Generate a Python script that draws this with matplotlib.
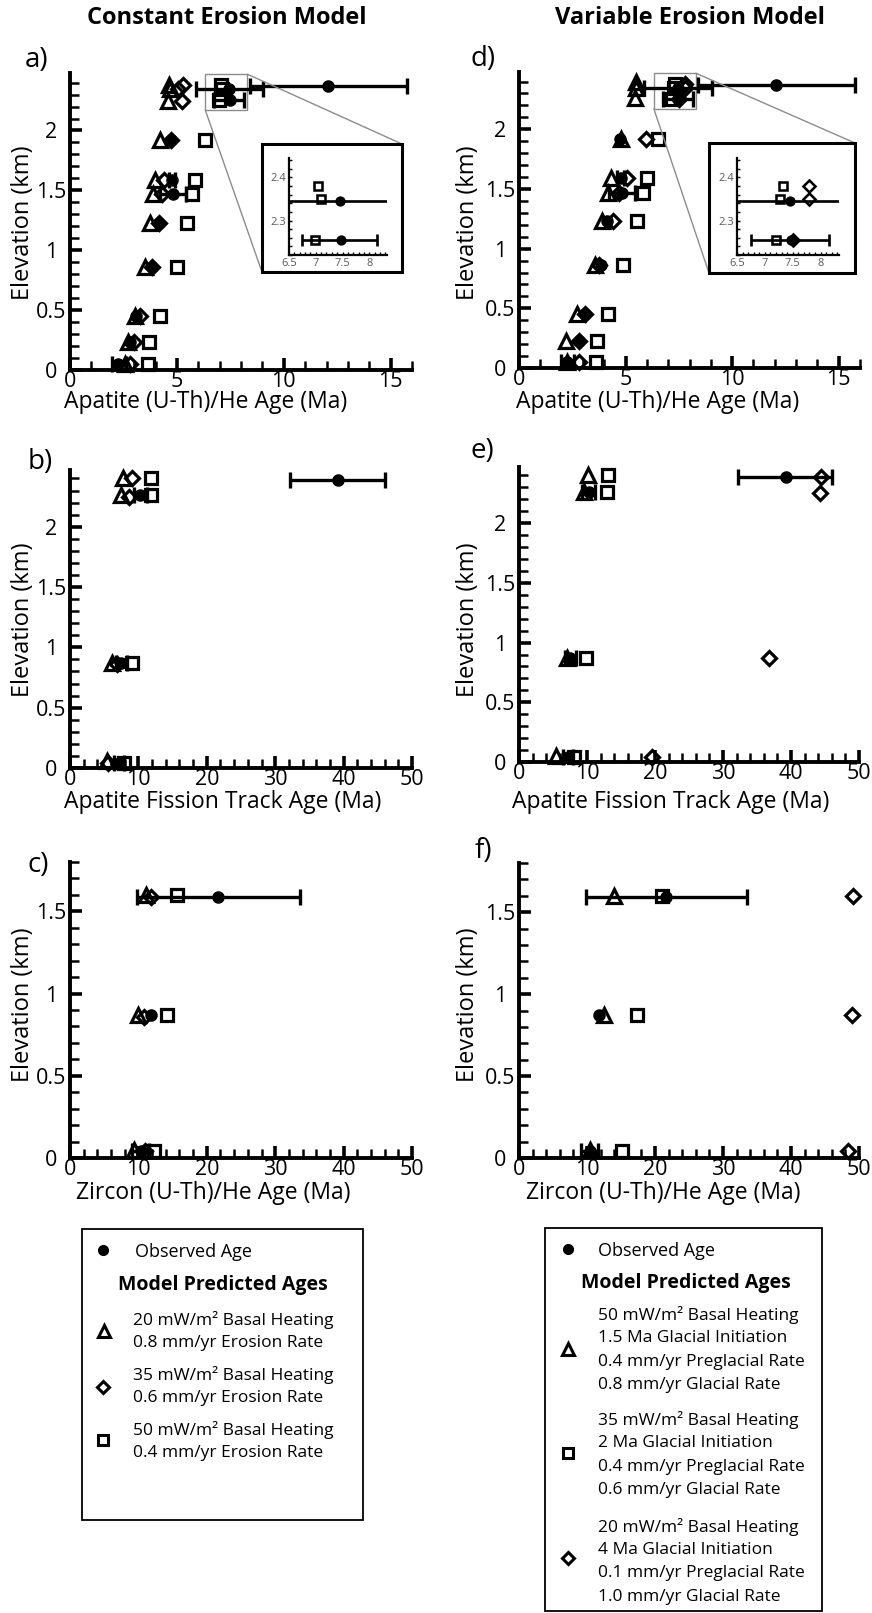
import matplotlib
matplotlib.use("Agg")
import matplotlib.pyplot as plt
from matplotlib.patches import Rectangle, ConnectionPatch
from matplotlib.ticker import MultipleLocator, FuncFormatter
import numpy as np

plt.rcParams['font.family'] = ['Open Sans', 'DejaVu Sans']

W, H = 872, 1613

# ---- observed ages (same samples in both columns) ----
ahe_obs_age = [12.05, 7.45, 7.47, 4.72, 4.77, 4.84, 4.15, 3.83, 3.1, 2.8, 2.25]
ahe_obs_elev = [2.37, 2.345, 2.255, 1.92, 1.59, 1.47, 1.23, 0.86, 0.45, 0.23, 0.05]
ahe_obs_lo = [8.4, 5.88, 6.75, 4.72, 4.62, 4.2, 4.15, 3.83, 3.1, 2.8, 1.98]
ahe_obs_hi = [15.75, 9.05, 8.15, 4.72, 4.92, 5.45, 4.15, 3.83, 3.1, 2.8, 2.6]

aft_obs_age = [39.2, 10.3, 7.5, 7.2]
aft_obs_elev = [2.39, 2.26, 0.87, 0.04]
aft_obs_lo = [32.2, 9.3, 6.7, 6.5]
aft_obs_hi = [46.1, 11.2, 8.4, 7.9]

zhe_obs_age = [21.6, 11.8, 10.45]
zhe_obs_elev = [1.59, 0.87, 0.04]
zhe_obs_lo = [9.8, 11.8, 9.1]
zhe_obs_hi = [33.6, 11.8, 11.6]

# ---- constant erosion model predictions ----
a_tri_age = [4.65, 4.7, 4.6, 4.22, 3.98, 3.9, 3.72, 3.5, 3.02, 2.72, 2.55]
a_tri_elev = [2.38, 2.35, 2.25, 1.92, 1.59, 1.47, 1.23, 0.86, 0.45, 0.23, 0.05]
a_dia_age = [5.3, 5.05, 5.25, 4.72, 4.38, 4.3, 4.15, 3.83, 3.28, 2.98, 2.8]
a_dia_elev = [2.38, 2.35, 2.25, 1.92, 1.59, 1.47, 1.23, 0.86, 0.45, 0.23, 0.05]
a_sq_age = [7.05, 7.1, 6.98, 6.3, 5.87, 5.72, 5.47, 5.0, 4.23, 3.7, 3.66]
a_sq_elev = [2.38, 2.35, 2.255, 1.92, 1.59, 1.47, 1.23, 0.86, 0.45, 0.23, 0.05]

b_tri_age = [7.8, 7.5, 6.1, 5.4]
b_tri_elev = [2.40, 2.26, 0.87, 0.06]
b_dia_age = [9.0, 8.6, 6.8, 5.6]
b_dia_elev = [2.40, 2.25, 0.86, 0.04]
b_sq_age = [11.8, 11.8, 9.0, 7.9]
b_sq_elev = [2.40, 2.26, 0.87, 0.04]

c_tri_age = [11.1, 10.0, 9.4]
c_tri_elev = [1.60, 0.87, 0.05]
c_dia_age = [11.9, 10.8, 10.9]
c_dia_elev = [1.59, 0.86, 0.04]
c_sq_age = [15.7, 14.2, 12.3]
c_sq_elev = [1.60, 0.87, 0.04]

# ---- variable erosion model predictions ----
d_tri_age = [5.48, 5.5, 5.45, 4.8, 4.32, 4.17, 3.88, 3.56, 2.72, 2.2, 2.25]
d_tri_elev = [2.40, 2.35, 2.26, 1.92, 1.59, 1.47, 1.23, 0.86, 0.45, 0.23, 0.05]
d_dia_age = [7.8, 7.8, 7.5, 5.94, 5.06, 4.69, 4.4, 3.75, 3.1, 2.8, 2.8]
d_dia_elev = [2.38, 2.35, 2.255, 1.92, 1.59, 1.47, 1.23, 0.86, 0.45, 0.23, 0.05]
d_sq_age = [7.33, 7.28, 7.2, 6.5, 6.0, 5.82, 5.53, 4.9, 4.17, 3.65, 3.62]
d_sq_elev = [2.38, 2.35, 2.255, 1.92, 1.59, 1.47, 1.23, 0.86, 0.45, 0.23, 0.05]

e_tri_age = [10.1, 9.6, 7.1, 5.5]
e_tri_elev = [2.40, 2.26, 0.87, 0.05]
e_dia_age = [44.4, 44.2, 36.7, 19.6]
e_dia_elev = [2.39, 2.25, 0.87, 0.04]
e_sq_age = [13.1, 13.0, 9.8, 8.1]
e_sq_elev = [2.40, 2.26, 0.87, 0.04]

f_tri_age = [13.9, 12.55, 10.45]
f_tri_elev = [1.60, 0.87, 0.05]
f_dia_age = [49.1, 48.9, 48.4]
f_dia_elev = [1.60, 0.87, 0.04]
f_sq_age = [21.0, 17.35, 15.1]
f_sq_elev = [1.60, 0.87, 0.04]

fig = plt.figure(figsize=(W / 100, H / 100), dpi=100)


def px_axes(left, top, right, bottom, z=0):
    ax = fig.add_axes([left / W, 1 - bottom / H, (right - left) / W, (bottom - top) / H])
    ax.set_zorder(z)
    return ax


def draw_points(ax, obs, models, scale=1.0, clip=False):
    age, elev, lo, hi = [np.asarray(v, float) for v in obs]
    m = (hi - lo) > 0
    ax.errorbar(age[m], elev[m], xerr=[age[m] - lo[m], hi[m] - age[m]], fmt='none',
                ecolor='k', elinewidth=2.4 * scale, capsize=5.5 * scale,
                capthick=2.4 * scale, clip_on=clip, zorder=2)
    ax.plot(age, elev, 'o', color='k', ms=8 * scale, clip_on=clip, zorder=3)
    for (xa, ya), mk, ms in zip(models, ['^', 'D', 's'], [10, 7.5, 8]):
        ax.plot(xa, ya, mk, mfc='none', mec='k', mew=2.3 * scale, ms=ms * scale,
                clip_on=clip, zorder=4)


fmt = FuncFormatter(lambda v, p: f'{v:g}')


def style(ax, xlim, ylim, xmaj, xmin):
    ax.set_xlim(*xlim)
    ax.set_ylim(*ylim)
    ax.patch.set_visible(False)
    for s in ['top', 'right']:
        ax.spines[s].set_visible(False)
    for s in ['left', 'bottom']:
        ax.spines[s].set_linewidth(2.8)
    ax.xaxis.set_major_locator(MultipleLocator(xmaj))
    ax.xaxis.set_minor_locator(MultipleLocator(xmin))
    ax.yaxis.set_major_locator(MultipleLocator(0.5))
    ax.yaxis.set_minor_locator(MultipleLocator(0.1))
    ax.xaxis.set_major_formatter(fmt)
    ax.yaxis.set_major_formatter(fmt)
    ax.tick_params(which='both', direction='in', top=False, right=False)
    ax.tick_params(which='major', length=8.5, width=2.6, labelsize=15.5)
    ax.tick_params(which='minor', length=6.5, width=1.8)
    ax.tick_params(axis='y', which='major', pad=13.5)
    ax.tick_params(axis='x', which='major', pad=0.5)
    for lbl in ax.get_yticklabels():
        lbl.set_ha('center')


def inset(ax, obs, models, frame, box):
    # frame: outer rectangle in px (l, t, r, b); box: inner axes in px
    l, t, r, b = frame
    lay.add_patch(Rectangle((l, t), r - l, b - t, fill=True, fc='white', ec='k', lw=2.2, zorder=5))
    ia = px_axes(*box, z=3)
    draw_points(ia, obs, models, scale=0.8, clip=True)
    ia.set_xlim(6.5, 8.33)
    ia.set_ylim(2.22, 2.445)
    ia.patch.set_visible(False)
    for s in ['top', 'right']:
        ia.spines[s].set_visible(False)
    for s in ['left', 'bottom']:
        ia.spines[s].set_linewidth(1.6)
    ia.xaxis.set_major_locator(MultipleLocator(0.5))
    ia.xaxis.set_minor_locator(MultipleLocator(0.1))
    ia.yaxis.set_major_locator(MultipleLocator(0.1))
    ia.yaxis.set_minor_locator(MultipleLocator(0.02))
    ia.xaxis.set_major_formatter(fmt)
    ia.yaxis.set_major_formatter(fmt)
    ia.tick_params(which='both', direction='in', labelsize=8, labelcolor='0.35',
                   length=2.5, width=1.0, pad=2)
    # zoom rectangle on main axes and connectors
    x0, x1, y0, y1 = 6.33, 8.3, 2.17, 2.47
    ax.add_patch(Rectangle((x0, y0), x1 - x0, y1 - y0, fill=False, ec='0.55', lw=1.0,
                           clip_on=False, zorder=1))
    for xa, ya, xb, yb in [(x1, y1, r, t), (x0, y0, l, b)]:
        con = ConnectionPatch(xyA=(xa, ya), coordsA='data', axesA=ax,
                              xyB=(xb, yb), coordsB='data', axesB=lay,
                              color='0.55', lw=1.0, zorder=4)
        lay.add_artist(con)


# overlay for text, legends and inset frames, in pixel coordinates
lay = fig.add_axes([0, 0, 1, 1])
lay.set_xlim(0, W)
lay.set_ylim(H, 0)
lay.axis('off')
lay.set_zorder(1)

ax_a = px_axes(70, 73, 412, 370)
ax_d = px_axes(519, 72, 860, 368)
ax_b = px_axes(70, 470, 412, 768)
ax_e = px_axes(519, 467, 859, 762)
ax_c = px_axes(70, 862, 412, 1158)
ax_f = px_axes(519, 863, 859, 1158)

ahe_obs = (ahe_obs_age, ahe_obs_elev, ahe_obs_lo, ahe_obs_hi)
aft_obs = (aft_obs_age, aft_obs_elev, aft_obs_lo, aft_obs_hi)
zhe_obs = (zhe_obs_age, zhe_obs_elev, zhe_obs_lo, zhe_obs_hi)

a_models = [(a_tri_age, a_tri_elev), (a_dia_age, a_dia_elev), (a_sq_age, a_sq_elev)]
b_models = [(b_tri_age, b_tri_elev), (b_dia_age, b_dia_elev), (b_sq_age, b_sq_elev)]
c_models = [(c_tri_age, c_tri_elev), (c_dia_age, c_dia_elev), (c_sq_age, c_sq_elev)]
d_models = [(d_tri_age, d_tri_elev), (d_dia_age, d_dia_elev), (d_sq_age, d_sq_elev)]
e_models = [(e_tri_age, e_tri_elev), (e_dia_age, e_dia_elev), (e_sq_age, e_sq_elev)]
f_models = [(f_tri_age, f_tri_elev), (f_dia_age, f_dia_elev), (f_sq_age, f_sq_elev)]

for ax, obs, mods, xl, yl, xm, xn in [
        (ax_a, ahe_obs, a_models, (0, 16), (0, 2.48), 5, 1),
        (ax_d, ahe_obs, d_models, (0, 16), (0, 2.48), 5, 1),
        (ax_b, aft_obs, b_models, (0, 50), (0, 2.47), 10, 2),
        (ax_e, aft_obs, e_models, (0, 50), (0, 2.47), 10, 2),
        (ax_c, zhe_obs, c_models, (0, 50), (0, 1.8), 10, 2),
        (ax_f, zhe_obs, f_models, (0, 50), (0, 1.8), 10, 2)]:
    draw_points(ax, obs, mods)
    style(ax, xl, yl, xm, xn)

inset(ax_a, ahe_obs, a_models, (262, 144, 402, 272), (289, 158, 387, 255))
inset(ax_d, ahe_obs, d_models, (709, 143, 855, 273), (737, 158, 839, 255))

# titles, panel letters, axis labels
lay.text(227, 18, 'Constant Erosion Model', ha='center', va='center', fontsize=17, fontweight='bold')
lay.text(690, 18, 'Variable Erosion Model', ha='center', va='center', fontsize=17, fontweight='bold')
for s, x, y in [('a)', 37, 60), ('d)', 483, 59), ('b)', 40, 462), ('e)', 482, 451),
                ('c)', 38, 865), ('f)', 483, 851)]:
    lay.text(x, y, s, ha='center', va='center', fontsize=20)
for s, x, y in [('Apatite (U-Th)/He Age (Ma)', 206, 402), ('Apatite (U-Th)/He Age (Ma)', 658, 402),
                ('Apatite Fission Track Age (Ma)', 223, 802), ('Apatite Fission Track Age (Ma)', 671, 802),
                ('Zircon (U-Th)/He Age (Ma)', 213, 1193), ('Zircon (U-Th)/He Age (Ma)', 663, 1193)]:
    lay.text(x, y, s, ha='center', va='center', fontsize=16.5)
for x, y in [(23, 223), (468, 223), (23, 620), (468, 620), (23, 1005), (468, 1005)]:
    lay.text(x, y, 'Elevation (km)', ha='center', va='center', rotation=90, fontsize=17)

# legends
lfs = 12.5
hfs = 14
key = dict(mfc='none', mec='k', mew=2.2, ls='none')
lay.add_patch(Rectangle((82, 1229), 281, 291, fill=False, ec='k', lw=1.3))
lay.plot([103], [1250], 'o', color='k', ms=7)
lay.text(135, 1252, 'Observed Age', va='center', fontsize=13)
lay.text(118, 1285, 'Model Predicted Ages', va='center', fontsize=hfs, fontweight='bold')
lay.plot([104], [1331], '^', ms=9, **key)
lay.plot([103], [1387], 'D', ms=6.5, **key)
lay.plot([103], [1440], 's', ms=7, **key)
for y, s in [(1320, '20 mW/m² Basal Heating'), (1343, '0.8 mm/yr Erosion Rate'),
             (1375, '35 mW/m² Basal Heating'), (1398, '0.6 mm/yr Erosion Rate'),
             (1430, '50 mW/m² Basal Heating'), (1453, '0.4 mm/yr Erosion Rate')]:
    lay.text(133, y, s, va='center', fontsize=lfs)

lay.add_patch(Rectangle((545, 1228), 277, 383, fill=False, ec='k', lw=1.3))
lay.plot([568], [1249], 'o', color='k', ms=7)
lay.text(598, 1251, 'Observed Age', va='center', fontsize=13)
lay.text(581, 1283, 'Model Predicted Ages', va='center', fontsize=hfs, fontweight='bold')
lay.plot([568], [1349], '^', ms=9, **key)
lay.plot([568], [1453], 's', ms=7, **key)
lay.plot([568], [1558], 'D', ms=6.5, **key)
for y, s in [(1315, '50 mW/m² Basal Heating'), (1338, '1.5 Ma Glacial Initiation'),
             (1362, '0.4 mm/yr Preglacial Rate'), (1385, '0.8 mm/yr Glacial Rate'),
             (1420, '35 mW/m² Basal Heating'), (1443, '2 Ma Glacial Initiation'),
             (1467, '0.4 mm/yr Preglacial Rate'), (1490, '0.6 mm/yr Glacial Rate'),
             (1527, '20 mW/m² Basal Heating'), (1550, '4 Ma Glacial Initiation'),
             (1573, '0.1 mm/yr Preglacial Rate'), (1597, '1.0 mm/yr Glacial Rate')]:
    lay.text(598, y, s, va='center', fontsize=lfs)

fig.savefig('out.png', dpi=100)
